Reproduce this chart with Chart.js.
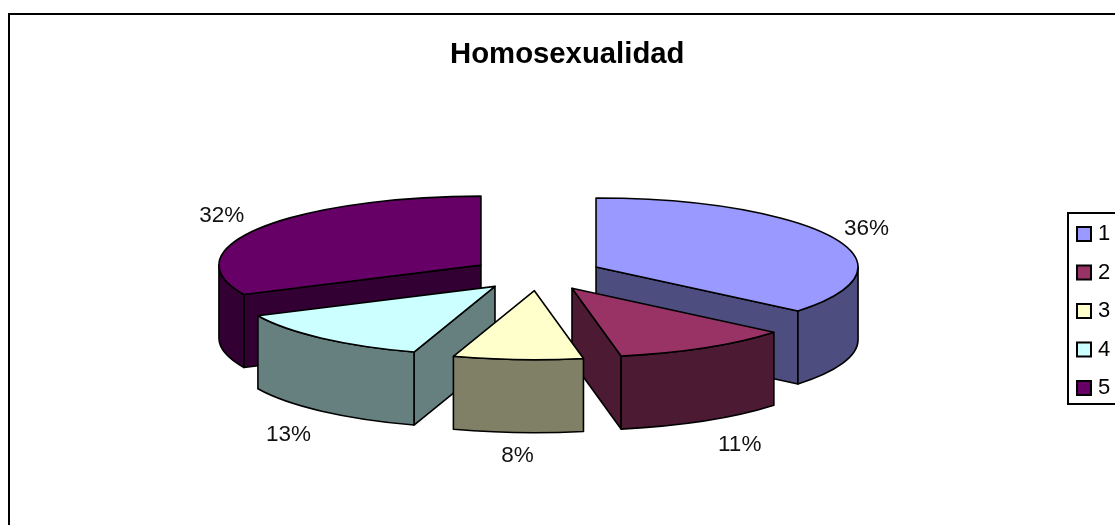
<!DOCTYPE html>
<html>
<head>
<meta charset="utf-8">
<style>
html,body{margin:0;padding:0;background:#fff;overflow:hidden}
#wrap{position:relative;width:1115px;height:525px}
canvas{display:block}
</style>
<script src="https://cdn.jsdelivr.net/npm/chart.js@4/dist/chart.umd.js"></script>
</head>
<body>
<div id="wrap"><canvas id="c" width="1115" height="525"></canvas></div>
<script>
const chartTitle = 'Homosexualidad';
const categories = ['1', '2', '3', '4', '5'];
const percentages = [36, 11, 8, 13, 32];
const topColors = ['#9999FF', '#993366', '#FFFFCC', '#CCFFFF', '#660066'];
const wallColors = ['#4D4D80', '#4D1A33', '#808066', '#668080', '#330033'];

// Layout of the fake-3D projection
const FONT = '"Liberation Sans", Arial, sans-serif';
const pieCenterX = 536.5, pieCenterY = 274.4, pieRadius = 262;
const squash = 69 / 262, wallHeight = 73, explode = 65.8, labelRadius = 300;
const sliceNudge = [[0, 0], [2, -1], [2, -1], [2, -1], [0, 0]];
const labelNudge = [[-1, -5], [17, 14], [4, 12], [-6, 15], [-6, -7]];
const wallOrder = [4, 0, 3, 1, 2];
const outlineWidth = 1.6;

function mapX(chart, x) { const a = chart.chartArea; return pieCenterX + x - (a.left + a.right) / 2; }
function mapY(chart, y) { const a = chart.chartArea; return pieCenterY + (y - (a.top + a.bottom) / 2) * squash; }

const pie3d = {
  id: 'pie3d',
  afterDatasetsUpdate(chart) {
    const a = chart.chartArea, cx = (a.left + a.right) / 2, cy = (a.top + a.bottom) / 2;
    chart.getDatasetMeta(0).data.forEach((el, i) => {
      const mid = (el.startAngle + el.endAngle) / 2;
      el.x = cx + Math.cos(mid) * explode + sliceNudge[i][0];
      el.y = cy + Math.sin(mid) * explode + sliceNudge[i][1] / squash;
    });
  },
  afterLayout(chart) {
    const t = chart.titleBlock;
    t.left = 19.5; t.right = 1115; t.top = 37; t.bottom = 72;
    const l = chart.legend;
    l.left = 1060.5; l.right = 1115; l.top = 206.5; l.bottom = 420;
  },
  beforeDraw(chart) {
    const ctx = chart.ctx;
    ctx.save();
    ctx.fillStyle = '#fff';
    ctx.fillRect(0, 0, chart.width, chart.height);
    ctx.strokeStyle = '#000';
    ctx.lineWidth = 2;
    ctx.strokeRect(9, 14, chart.width + 20, chart.height + 20);
    ctx.lineWidth = 2;
    ctx.strokeRect(1068, 213, 60, 191);
    ctx.restore();
  },
  beforeDatasetsDraw(chart) {
    const ctx = chart.ctx, arcs = chart.getDatasetMeta(0).data;
    ctx.save();
    ctx.strokeStyle = '#000';
    ctx.lineWidth = outlineWidth;
    ctx.lineJoin = 'round';
    wallOrder.forEach(i => {
      const el = arcs[i], r = el.outerRadius;
      const ox = mapX(chart, el.x), oy = mapY(chart, el.y);
      ctx.fillStyle = wallColors[i];
      const radial = ang => {
        const ex = ox + r * Math.cos(ang), ey = oy + r * Math.sin(ang) * squash;
        ctx.beginPath();
        ctx.moveTo(ox, oy);
        ctx.lineTo(ex, ey);
        ctx.lineTo(ex, ey + wallHeight);
        ctx.lineTo(ox, oy + wallHeight);
        ctx.closePath();
        ctx.fill();
        ctx.stroke();
      };
      if (Math.cos(el.startAngle) < -1e-6) radial(el.startAngle);
      if (Math.cos(el.endAngle) > 1e-6) radial(el.endAngle);
      const from = Math.max(el.startAngle, 0), to = Math.min(el.endAngle, Math.PI);
      if (to > from) {
        ctx.beginPath();
        ctx.ellipse(ox, oy, r, r * squash, 0, from, to, false);
        ctx.ellipse(ox, oy + wallHeight, r, r * squash, 0, to, from, true);
        ctx.closePath();
        ctx.fill();
        ctx.stroke();
      }
    });
    ctx.restore();
    // the library's arcs are painted through the squash transform
    const a = chart.chartArea;
    ctx.save();
    ctx.translate(pieCenterX, pieCenterY);
    ctx.scale(1, squash);
    ctx.translate(-(a.left + a.right) / 2, -(a.top + a.bottom) / 2);
  },
  afterDatasetsDraw(chart) {
    const ctx = chart.ctx, arcs = chart.getDatasetMeta(0).data;
    ctx.restore();
    ctx.save();
    ctx.strokeStyle = '#000';
    ctx.lineWidth = outlineWidth;
    ctx.lineJoin = 'round';
    arcs.forEach(el => {
      const ox = mapX(chart, el.x), oy = mapY(chart, el.y), r = el.outerRadius;
      ctx.beginPath();
      ctx.moveTo(ox, oy);
      ctx.ellipse(ox, oy, r, r * squash, 0, el.startAngle, el.endAngle, false);
      ctx.closePath();
      ctx.stroke();
    });
    ctx.fillStyle = '#111';
    ctx.font = '22.5px ' + FONT;
    ctx.textAlign = 'center';
    ctx.textBaseline = 'middle';
    arcs.forEach((el, i) => {
      const mid = (el.startAngle + el.endAngle) / 2;
      const sin = Math.sin(mid);
      const x = mapX(chart, el.x) + labelRadius * Math.cos(mid) + labelNudge[i][0] - sliceNudge[i][0];
      const y = mapY(chart, el.y) + labelRadius * sin * squash + (sin > 0 ? wallHeight : 0) + labelNudge[i][1] - sliceNudge[i][1];
      ctx.fillText(percentages[i] + '%', x, y);
    });
    ctx.restore();
  },
  afterDraw(chart) {
    const ctx = chart.ctx, size = 14;
    ctx.save();
    ctx.strokeStyle = '#000';
    ctx.lineWidth = 2;
    categories.forEach((_, i) => {
      const y = 234 + i * 38.5 - size / 2;
      ctx.fillStyle = topColors[i];
      ctx.fillRect(1077, y, size, size);
      ctx.strokeRect(1077, y, size, size);
    });
    ctx.restore();
  }
};

new Chart(document.getElementById('c'), {
  type: 'pie',
  data: {
    labels: categories,
    datasets: [{
      data: percentages,
      backgroundColor: topColors,
      borderWidth: 0,
      radius: pieRadius,
      clip: false
    }]
  },
  options: {
    responsive: false,
    animation: false,
    events: [],
    plugins: {
      tooltip: { enabled: false },
      title: {
        display: true,
        text: chartTitle,
        color: '#000',
        padding: 0,
        font: { family: FONT, size: 29.3, weight: 'bold' }
      },
      legend: {
        display: true,
        position: 'right',
        align: 'start',
        labels: {
          boxWidth: 10,
          boxHeight: 14,
          padding: 16.5,
          color: '#111',
          font: { family: FONT, size: 22 },
          generateLabels: c => c.data.labels.map((text, index) => ({
            text, index, hidden: false, lineWidth: 0,
            fillStyle: 'rgba(0,0,0,0)', strokeStyle: 'rgba(0,0,0,0)'
          }))
        }
      }
    }
  },
  plugins: [pie3d]
});
</script>
</body>
</html>
